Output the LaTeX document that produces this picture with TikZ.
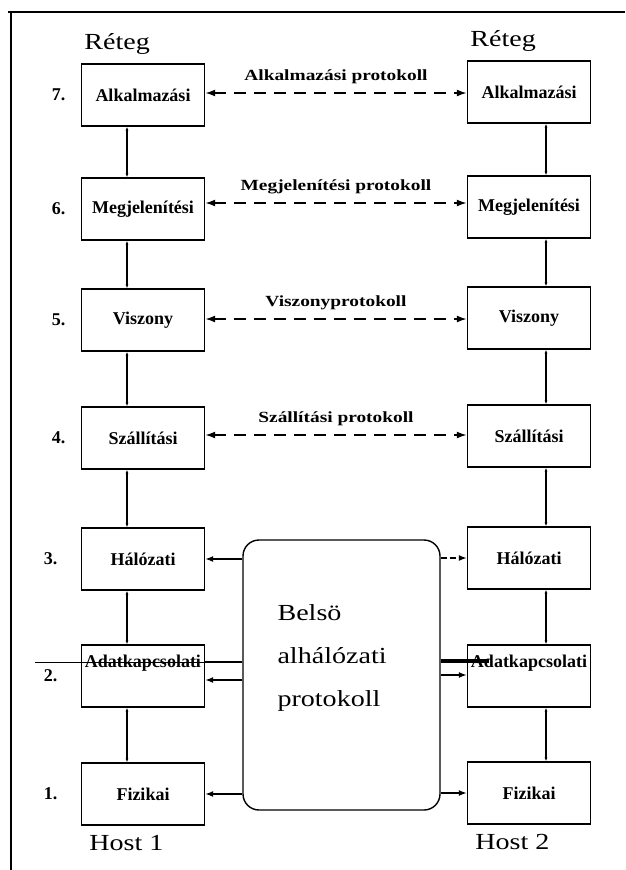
\documentclass[tikz,border=0pt]{standalone}
\usepackage{fontspec}
\setmainfont{Liberation Serif}
\newfontfamily\scanfont[FakeStretch=1.22]{Liberation Serif}
\newfontfamily\scanbold[FakeStretch=1.25, UprightFont=* Bold]{Liberation Serif}
\usetikzlibrary{arrows.meta, positioning}

\begin{document}
\begin{tikzpicture}[x=1pt, y=-1pt,
    layer/.style={draw, line width=1.3pt, minimum width=123pt, minimum height=62pt, inner sep=0pt,
                  font=\bfseries\fontsize{18}{20}\selectfont},
    peer/.style={{Latex[length=10pt,width=7pt]}-{Latex[length=10pt,width=7pt]}, line width=1.8pt, dash pattern=on 12pt off 8pt},
    down/.style={{Latex[length=4pt,width=3pt]}-{Latex[length=4pt,width=3pt]}, line width=1.1pt},
    wire/.style={-{Latex[length=8pt,width=6pt]}, line width=1.6pt},
    lbl/.style={font=\scanbold\fontsize{15.5}{17}\selectfont},
    num/.style={font=\bfseries\fontsize{18}{20}\selectfont},
    head/.style={font=\scanfont\fontsize{23}{25}\selectfont}]
    \useasboundingbox (0,0) rectangle (625,870);

    % frame of the scanned page
    \draw[line width=1.6pt] (8,12) -- (625,12);
    \draw[line width=1.6pt] (11,12) -- (11,870);

    % host 1 layers
    \node[layer] (l7) at (143,95) {Alkalmazási};
    \node[layer] (l6) at (143,209) {Megjelenítési};
    \node[layer] (l5) at (143,320) {Viszony};
    \node[layer] (l4) at (143,438) {Szállítási};
    \node[layer] (l3) at (143,559) {Hálózati};
    \node[layer, text height=11pt, text depth=29pt] (l2) at (143,676) {Adatkapcsolati};
    \node[layer] (l1) at (143,794) {Fizikai};

    % host 2 layers
    \node[layer] (r7) at (529,92) {Alkalmazási};
    \node[layer] (r6) at (529,207) {Megjelenítési};
    \node[layer] (r5) at (529,318) {Viszony};
    \node[layer] (r4) at (529,436) {Szállítási};
    \node[layer] (r3) at (529,558) {Hálózati};
    \node[layer, text height=11pt, text depth=29pt] (r2) at (529,676) {Adatkapcsolati};
    \node[layer] (r1) at (529,793) {Fizikai};

    % headings
    \node[head, above=5pt of l7.north west, anchor=south west] (hl) {Réteg};
    \node[head, above=5pt of r7.north west, anchor=south west] (hr) {Réteg};
    \node[head, below=6pt of l1.south west, anchor=north west, xshift=5pt] (h1) {Host 1};
    \node[head, below=6pt of r1.south west, anchor=north west, xshift=5pt] (h2) {Host 2};

    % layer numbers
    \node[num, left=12pt of l7] (n7) {7.};
    \node[num, left=12pt of l6] (n6) {6.};
    \node[num, left=12pt of l5] (n5) {5.};
    \node[num, left=12pt of l4] (n4) {4.};
    \node[num, left=20pt of l3] (n3) {3.};
    \node[num, left=20pt of l2] (n2) {2.};
    \node[num, left=20pt of l1] (n1) {1.};

    % peer protocols
    \draw[peer] (l7.east |- 0,93) -- node[lbl, above=5pt] {Alkalmazási protokoll} (r7.west |- 0,93);
    \draw[peer] (l6.east |- 0,203) -- node[lbl, above=5pt] {Megjelenítési protokoll} (r6.west |- 0,203);
    \draw[peer] (l5.east |- 0,319) -- node[lbl, above=5pt] {Viszonyprotokoll} (r5.west |- 0,319);
    \draw[peer] (l4.east |- 0,435) -- node[lbl, above=5pt] {Szállítási protokoll} (r4.west |- 0,435);

    % interfaces inside host 1
    \draw[down] (127,0 |- l7.south) -- (127,0 |- l6.north);
    \draw[down] (127,0 |- l6.south) -- (127,0 |- l5.north);
    \draw[down] (127,0 |- l5.south) -- (127,0 |- l4.north);
    \draw[down] (127,0 |- l4.south) -- (127,0 |- l3.north);
    \draw[down] (127,0 |- l3.south) -- (127,0 |- l2.north);
    \draw[down] (127,0 |- l2.south) -- (127,0 |- l1.north);

    % interfaces inside host 2
    \draw[down] (546,0 |- r7.south) -- (546,0 |- r6.north);
    \draw[down] (546,0 |- r6.south) -- (546,0 |- r5.north);
    \draw[down] (546,0 |- r5.south) -- (546,0 |- r4.north);
    \draw[down] (546,0 |- r4.south) -- (546,0 |- r3.north);
    \draw[down] (546,0 |- r3.south) -- (546,0 |- r2.north);
    \draw[down] (546,0 |- r2.south) -- (546,0 |- r1.north);

    % inner subnet
    \node[draw, line width=1.4pt, rounded corners=16pt, minimum width=197pt, minimum height=270pt] (sub) at (341.5,675) {};
    \node[font=\scanfont\fontsize{23}{43}\selectfont, align=left, anchor=north west] (subtxt) at (274,601) {Belsö\\alhálózati\\protokoll};

    \draw[wire] (sub.west |- l3) -- (l3.east);
    \draw[wire] (sub.west |- 0,680) -- (l2.east |- 0,680);
    \draw[wire] (sub.west |- l1) -- (l1.east);
    \draw[wire, dash pattern=on 6pt off 3pt] (sub.east |- r3) -- (r3.west);
    \draw[wire] (sub.east |- 0,675) -- (r2.west |- 0,675);
    \draw[wire] (sub.east |- r1) -- (r1.west);

    % scan marks across the data link layer
    \coordinate (cut) at (35,662);
    \draw[line width=0.8pt] (cut) -- (sub.west |- cut);
    \draw[line width=2.5pt] (l2.east |- cut) -- (sub.west |- cut);
    \draw[line width=4pt] (sub.east |- 0,661) -- (r2.west |- 0,661) -- ++(22,0);
\end{tikzpicture}
\end{document}
